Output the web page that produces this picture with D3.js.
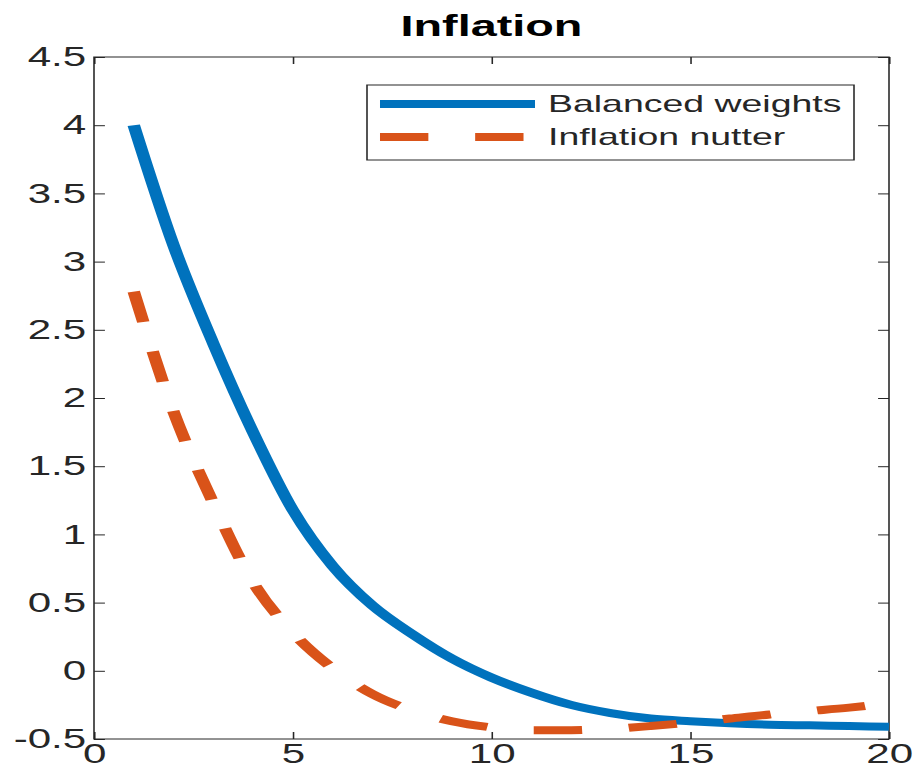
<!DOCTYPE html>
<html>
<head>
<meta charset="utf-8">
<script src="https://cdn.jsdelivr.net/npm/d3@7"></script>
<style>
  html, body { margin: 0; padding: 0; background: #fff; }
  svg { display: block; }
</style>
</head>
<body>
<svg id="chart" width="913" height="771"></svg>
<script>
// ---- data ----
const horizon = [1,2,3,4,5,6,7,8,9,10,11,12,13,14,15,16,17,18,19,20];
const balancedWeights = [4.00, 3.12, 2.40, 1.75, 1.18, 0.77, 0.48, 0.27, 0.09, -0.05,
                         -0.16, -0.25, -0.31, -0.35, -0.37, -0.385, -0.395, -0.40, -0.405, -0.41];
const inflationNutter = [2.78, 1.90, 1.23, 0.65, 0.28, 0.02, -0.17, -0.29, -0.37, -0.415,
                         -0.435, -0.435, -0.425, -0.405, -0.38, -0.35, -0.32, -0.295, -0.27, -0.24];
const seriesNames = ["Balanced weights", "Inflation nutter"];
const xTicks = [0, 5, 10, 15, 20];
const yTicks = [-0.5, 0, 0.5, 1, 1.5, 2, 2.5, 3, 3.5, 4, 4.5];
const chartTitle = "Inflation";

(function () {
// ---- layout (the picture is stretched horizontally) ----
const SX = 1.56;
const pLeft = 94 / SX, pRight = 889 / SX, pTop = 57, pBottom = 739;
const font = "'Liberation Sans', Arial, Helvetica, sans-serif";
const ink = "#262626";
const blue = "#0072BD", orange = "#D95319";
const tickLen = 7;

const svg = d3.select("#chart");
const g = svg.append("g").attr("transform", `scale(${SX},1)`);

const x = d3.scaleLinear().domain([0, 20]).range([pLeft, pRight]);
const y = d3.scaleLinear().domain([-0.5, 4.5]).range([pBottom, pTop]);

function styleAxis(sel) {
  sel.select(".domain").remove();
  sel.selectAll(".tick line").attr("stroke", ink).attr("stroke-width", 1);
  sel.selectAll(".tick text").attr("fill", ink).attr("font-family", font).attr("font-size", 27);
}
const xb = g.append("g").attr("transform", `translate(0,${pBottom})`)
  .call(d3.axisBottom(x).tickValues(xTicks).tickFormat(d3.format("d")).tickSizeInner(-tickLen).tickSizeOuter(0));
styleAxis(xb);
xb.selectAll(".tick text").attr("y", 5).attr("dy", "0.72em");
const xt = g.append("g").attr("transform", `translate(0,${pTop})`)
  .call(d3.axisTop(x).tickValues(xTicks).tickFormat("").tickSizeInner(-tickLen).tickSizeOuter(0));
styleAxis(xt);
const yl = g.append("g").attr("transform", `translate(${pLeft},0)`)
  .call(d3.axisLeft(y).tickValues(yTicks).tickFormat(d => String(d)).tickSizeInner(-tickLen).tickSizeOuter(0));
styleAxis(yl);
yl.selectAll(".tick text").attr("x", -5);
const yr = g.append("g").attr("transform", `translate(${pRight},0)`)
  .call(d3.axisRight(y).tickValues(yTicks).tickFormat("").tickSizeInner(-tickLen).tickSizeOuter(0));
styleAxis(yr);

g.append("rect")
  .attr("x", pLeft).attr("y", pTop).attr("width", pRight - pLeft).attr("height", pBottom - pTop)
  .attr("fill", "none").attr("stroke", ink).attr("stroke-width", 1);

const line = d3.line().x(d => x(d[0])).y(d => y(d[1])).curve(d3.curveMonotoneX);

g.append("path")
  .datum(horizon.map((h, i) => [h, balancedWeights[i]]))
  .attr("d", line).attr("fill", "none").attr("stroke", blue)
  .attr("stroke-width", 8).attr("stroke-linecap", "butt").attr("stroke-linejoin", "round");

g.append("path")
  .datum(horizon.map((h, i) => [h, inflationNutter[i]]))
  .attr("d", line).attr("fill", "none").attr("stroke", orange)
  .attr("stroke-width", 8).attr("stroke-dasharray", "31,30").attr("stroke-linecap", "butt");

g.append("text")
  .attr("x", (pLeft + pRight) / 2).attr("y", 36)
  .attr("text-anchor", "middle").attr("font-family", font).attr("font-weight", "bold")
  .attr("font-size", 30).attr("fill", "#000").text(chartTitle);

const lg = g.append("g");
const lx0 = 367 / SX, lx1 = 854 / SX, ly0 = 85, ly1 = 160;
lg.append("rect").attr("x", lx0).attr("y", ly0).attr("width", lx1 - lx0).attr("height", ly1 - ly0)
  .attr("fill", "#fff").attr("stroke", ink).attr("stroke-width", 1);
const legendItems = [
  { name: seriesNames[0], color: blue, dash: null, cy: 104 },
  { name: seriesNames[1], color: orange, dash: "31,30", cy: 137 }
];
legendItems.forEach(it => {
  lg.append("line").attr("x1", 380 / SX).attr("x2", 535 / SX).attr("y1", it.cy).attr("y2", it.cy)
    .attr("stroke", it.color).attr("stroke-width", 8).attr("stroke-dasharray", it.dash);
  lg.append("text").attr("x", 548 / SX).attr("y", it.cy).attr("dy", "0.35em")
    .attr("font-family", font).attr("font-size", 24).attr("fill", ink).text(it.name);
});
})();
</script>
</body>
</html>
